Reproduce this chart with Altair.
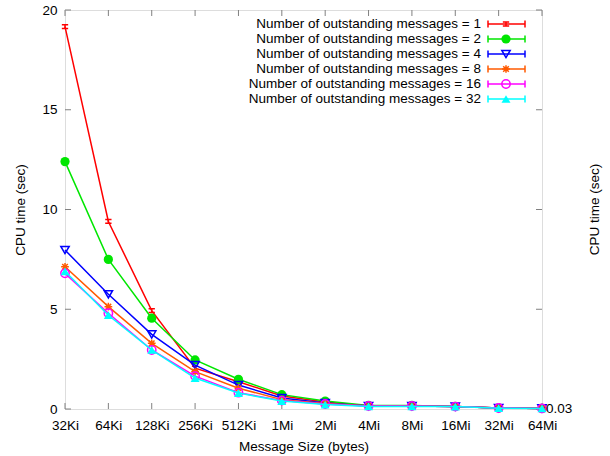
import altair as alt
import pandas as pd

categories = ["32Ki", "64Ki", "128Ki", "256Ki", "512Ki", "1Mi", "2Mi", "4Mi", "8Mi", "16Mi", "32Mi", "64Mi"]
series_names = [
    "Number of outstanding messages = 1",
    "Number of outstanding messages = 2",
    "Number of outstanding messages = 4",
    "Number of outstanding messages = 8",
    "Number of outstanding messages = 16",
    "Number of outstanding messages = 32",
]
n1 = [19.17, 9.40, 4.93, 2.05, 1.37, 0.65, 0.35, 0.15, 0.15, 0.12, 0.05, 0.03]
n2 = [12.40, 7.50, 4.55, 2.46, 1.49, 0.72, 0.40, 0.18, 0.18, 0.13, 0.05, 0.03]
n4 = [7.97, 5.75, 3.74, 2.20, 1.20, 0.55, 0.30, 0.15, 0.15, 0.12, 0.05, 0.03]
n8 = [7.13, 5.13, 3.29, 1.87, 1.04, 0.47, 0.27, 0.15, 0.15, 0.12, 0.05, 0.03]
n16 = [6.80, 4.80, 2.96, 1.65, 0.82, 0.42, 0.25, 0.15, 0.15, 0.12, 0.05, 0.03]
n32 = [6.90, 4.70, 2.96, 1.55, 0.80, 0.40, 0.22, 0.13, 0.13, 0.12, 0.04, 0.03]
all_values = [n1, n2, n4, n8, n16, n32]
y_ticks = [0, 5, 10, 15, 20]

colors = ["#ff0000", "#00e600", "#0000ff", "#ff5a00", "#ff00ff", "#00ffff"]
I_SHAPE = "M-1,-0.6L1,-0.6M0,-0.6L0,0.6M-1,0.6L1,0.6"
STAR = "M-1,0L1,0M0,-1L0,1M-0.72,-0.72L0.72,0.72M-0.72,0.72L0.72,-0.72"
marker_styles = [
    dict(shape=I_SHAPE, filled=False, size=40),
    dict(shape="circle", filled=True, size=85),
    dict(shape="triangle-down", filled=False, size=70),
    dict(shape=STAR, filled=False, size=60),
    dict(shape="circle", filled=False, size=70),
    dict(shape="triangle-up", filled=True, size=80),
]

W, H = 477, 399
FONT = "Liberation Sans"
FS = 13.5
LFS = 13.5

xscale = alt.Scale(type="point", domain=categories, padding=0)
yscale = alt.Scale(domain=[0, 20], nice=False, zero=True)

X = alt.X("size:O", scale=xscale, sort=categories,
          axis=alt.Axis(title="Message Size (bytes)", labelAngle=0, ticks=False, tickSize=0,
                        domain=False, grid=False, labelPadding=9, titlePadding=8,
                        labelFontSize=FS, titleFontSize=FS, titleFontWeight="normal",
                        labelFont=FONT, titleFont=FONT, labelColor="#000", titleColor="#000"))
Y = alt.Y("cpu:Q", scale=yscale,
          axis=alt.Axis(title="CPU time (sec)", values=y_ticks, ticks=False, tickSize=0,
                        domain=False, grid=False, labelPadding=8, titlePadding=14,
                        labelFontSize=FS, titleFontSize=FS, titleFontWeight="normal",
                        labelFont=FONT, titleFont=FONT, labelColor="#000", titleColor="#000"))

rows = []
for name, vals in zip(series_names, all_values):
    for c, v in zip(categories, vals):
        rows.append({"series": name, "size": c, "cpu": v})
df = pd.DataFrame(rows)

layers = []

# inward ticks
xt = pd.DataFrame({"size": categories})
yt = pd.DataFrame({"cpu": y_ticks})
tick_color = "#808080"
layers.append(alt.Chart(xt).mark_rule(color=tick_color).encode(x=X, y=alt.value(H), y2=alt.value(H - 6)))
layers.append(alt.Chart(xt).mark_rule(color=tick_color).encode(x=X, y=alt.value(0), y2=alt.value(6)))
layers.append(alt.Chart(yt).mark_rule(color=tick_color).encode(y=Y, x=alt.value(0), x2=alt.value(6)))
layers.append(alt.Chart(yt).mark_rule(color=tick_color).encode(y=Y, x=alt.value(W), x2=alt.value(W - 6)))

for i, (name, col, ms) in enumerate(zip(series_names, colors, marker_styles)):
    sub = df[df["series"] == name]
    layers.append(alt.Chart(sub).mark_line(color=col, strokeWidth=1.5).encode(x=X, y=Y))
    layers.append(alt.Chart(sub).mark_point(color=col, strokeWidth=1.5, opacity=1,
                                            shape=ms["shape"], filled=ms["filled"],
                                            size=ms["size"]).encode(x=X, y=Y))
    # legend entry
    leg = pd.DataFrame({"label": [name], "idx": [i]})
    base = alt.Chart(leg).transform_calculate(ly="14 + 15*datum.idx")
    layers.append(base.mark_text(align="right", baseline="middle", fontSize=LFS, font=FONT,
                                 color="#000").encode(
        x=alt.value(416), y=alt.Y("ly:Q", scale=None), text="label:N"))
    layers.append(base.mark_rule(color=col, strokeWidth=1.5).encode(
        x=alt.value(423), x2=alt.value(460), y=alt.Y("ly:Q", scale=None)))
    layers.append(base.transform_calculate(ly1="datum.ly - 3.5", ly2="datum.ly + 3.5").mark_rule(
        color=col, strokeWidth=1.5).encode(
        x=alt.value(423), y=alt.Y("ly1:Q", scale=None), y2="ly2:Q"))
    layers.append(base.transform_calculate(ly1="datum.ly - 3.5", ly2="datum.ly + 3.5").mark_rule(
        color=col, strokeWidth=1.5).encode(
        x=alt.value(460), y=alt.Y("ly1:Q", scale=None), y2="ly2:Q"))
    layers.append(base.mark_point(color=col, strokeWidth=1.5, opacity=1, shape=ms["shape"],
                                  filled=ms["filled"], size=ms["size"]).encode(
        x=alt.value(441), y=alt.Y("ly:Q", scale=None)))

# right axis title and last value label
right_title = alt.Chart(pd.DataFrame({"t": ["CPU time (sec)"]})).mark_text(
    angle=270, fontSize=FS, font=FONT, color="#000", baseline="middle", align="center").encode(
    x=alt.value(W + 53), y=alt.value(H / 2), text="t:N")
last_label = alt.Chart(pd.DataFrame({"t": ["0.03"], "cpu": [0.0]})).mark_text(
    align="left", baseline="middle", fontSize=FS, font=FONT, color="#000", dx=4).encode(
    x=alt.value(W), y=Y, text="t:N")
layers += [right_title, last_label]

chart = alt.layer(*layers).properties(
    width=W, height=H,
    autosize=alt.AutoSizeParams(type="none"),
    padding={"left": 65, "top": 10, "right": 68, "bottom": 47},
).configure_view(stroke="#808080", strokeWidth=1).configure(background="white")

chart.save("out.html", embed_options={"renderer": "svg", "actions": False})
